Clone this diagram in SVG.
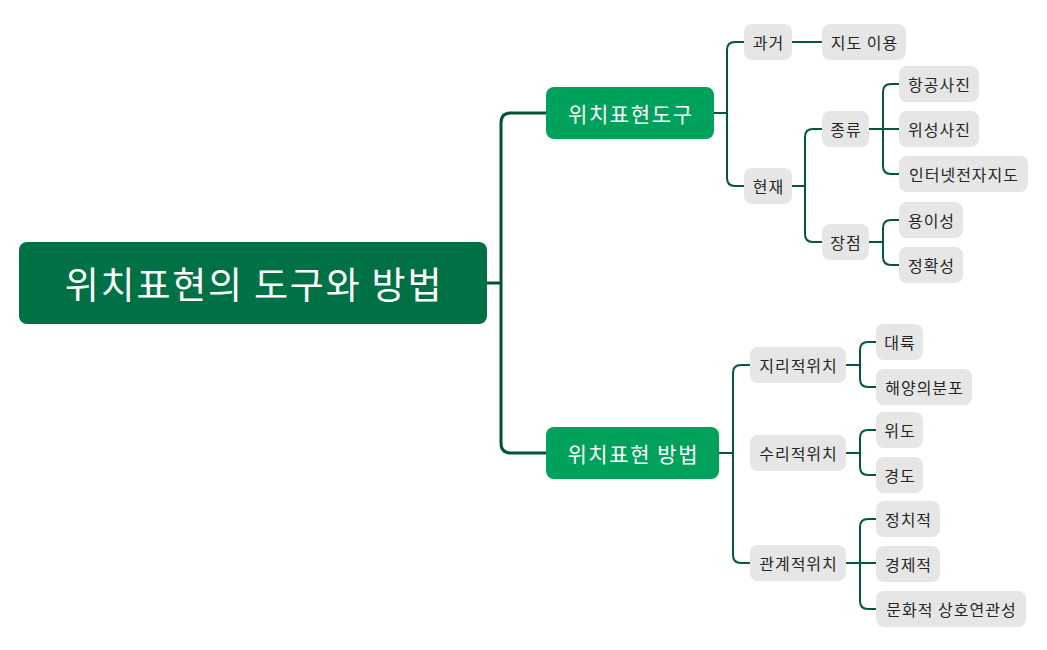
<svg xmlns="http://www.w3.org/2000/svg" width="1047" height="650" viewBox="0 0 1047 650">
<style>
text{font-family:"Noto Sans CJK KR","Noto Sans",sans-serif;text-anchor:middle;dominant-baseline:central}
.root rect{fill:#007144}
.root text{fill:#fff;font-size:37px;letter-spacing:1.8px}
.br rect{fill:#00a15a}
.br text{fill:#fff;font-size:21px;letter-spacing:1.6px}
.lf rect{fill:#e6e6e6}
.lf text{fill:#262626;font-size:16px;letter-spacing:1px}
#connectors path{fill:none;stroke:#005a32;stroke-width:2}
#connectors path.main{stroke-width:3;stroke:#00552e}
</style>
<rect width="1047" height="650" fill="#fff"/>
<g id="connectors">
<path class="main" d="M487,283 H501"/>
<path class="main" d="M546,113 H511 Q501,113 501,123 V443 Q501,453 511,453 H546"/>
<path d="M713,113 H727"/>
<path d="M744,42 H735 Q727,42 727,50 V178 Q727,186 735,186 H744"/>
<path d="M792,42 H822"/>
<path d="M792,186 H805"/>
<path d="M822,129 H813 Q805,129 805,137 V234 Q805,242 813,242 H822"/>
<path d="M869,129 H899"/>
<path d="M899,84 H891 Q883,84 883,92 V166 Q883,174 891,174 H899"/>
<path d="M869,242 H883"/>
<path d="M899,220 H891 Q883,220 883,228 V257 Q883,265 891,265 H899"/>
<path d="M719,453 H733"/>
<path d="M750,365 H741 Q733,365 733,373 V555 Q733,563 741,563 H750"/>
<path d="M846,365 H860"/>
<path d="M876,342 H868 Q860,342 860,350 V379 Q860,387 868,387 H876"/>
<path d="M846,453 H860"/>
<path d="M876,430 H868 Q860,430 860,438 V467 Q860,475 868,475 H876"/>
<path d="M846,563 H876"/>
<path d="M876,519 H868 Q860,519 860,527 V601 Q860,609 868,609 H876"/>
</g>
<g id="root" class="root"><rect x="19" y="242" width="468" height="82" rx="8"/><text x="254" y="283">위치표현의 도구와 방법</text></g>
<g id="b1" class="br"><rect x="546" y="87" width="168" height="52" rx="8"/><text x="630.8" y="113">위치표현도구</text></g>
<g id="b2" class="br"><rect x="546" y="427" width="173" height="52" rx="8"/><text x="633.3" y="453">위치표현 방법</text></g>
<g id="n-past" class="lf"><rect x="744" y="24" width="48" height="36" rx="8"/><text x="768.5" y="42">과거</text></g>
<g id="n-map" class="lf"><rect x="822" y="24" width="84" height="36" rx="8"/><text x="864.5" y="42">지도 이용</text></g>
<g id="n-now" class="lf"><rect x="744" y="168" width="48" height="36" rx="8"/><text x="768.5" y="186">현재</text></g>
<g id="n-kind" class="lf"><rect x="822" y="111" width="47" height="36" rx="8"/><text x="846" y="129">종류</text></g>
<g id="n-adv" class="lf"><rect x="822" y="224" width="47" height="36" rx="8"/><text x="846" y="242">장점</text></g>
<g id="n-air" class="lf"><rect x="899" y="66" width="80" height="36" rx="8"/><text x="939.5" y="84">항공사진</text></g>
<g id="n-sat" class="lf"><rect x="899" y="111" width="80" height="36" rx="8"/><text x="939.5" y="129">위성사진</text></g>
<g id="n-web" class="lf"><rect x="899" y="156" width="129" height="36" rx="8"/><text x="964" y="174">인터넷전자지도</text></g>
<g id="n-easy" class="lf"><rect x="899" y="202" width="64" height="36" rx="8"/><text x="931.5" y="220">용이성</text></g>
<g id="n-acc" class="lf"><rect x="899" y="247" width="64" height="36" rx="8"/><text x="931.5" y="265">정확성</text></g>
<g id="n-geo" class="lf"><rect x="750" y="347" width="96" height="36" rx="8"/><text x="798.5" y="365">지리적위치</text></g>
<g id="n-math" class="lf"><rect x="750" y="435" width="96" height="36" rx="8"/><text x="798.5" y="453">수리적위치</text></g>
<g id="n-rel" class="lf"><rect x="750" y="545" width="96" height="36" rx="8"/><text x="798.5" y="563">관계적위치</text></g>
<g id="n-cont" class="lf"><rect x="876" y="324" width="47" height="36" rx="8"/><text x="900" y="342">대륙</text></g>
<g id="n-ocean" class="lf"><rect x="876" y="369" width="96" height="36" rx="8"/><text x="924.5" y="387">해양의분포</text></g>
<g id="n-lat" class="lf"><rect x="876" y="412" width="47" height="36" rx="8"/><text x="900" y="430">위도</text></g>
<g id="n-lon" class="lf"><rect x="876" y="457" width="47" height="36" rx="8"/><text x="900" y="475">경도</text></g>
<g id="n-pol" class="lf"><rect x="876" y="501" width="64" height="36" rx="8"/><text x="908.5" y="519">정치적</text></g>
<g id="n-eco" class="lf"><rect x="876" y="546" width="64" height="36" rx="8"/><text x="908.5" y="564">경제적</text></g>
<g id="n-cul" class="lf"><rect x="876" y="591" width="150" height="36" rx="8"/><text x="951.5" y="609">문화적 상호연관성</text></g>
</svg>
